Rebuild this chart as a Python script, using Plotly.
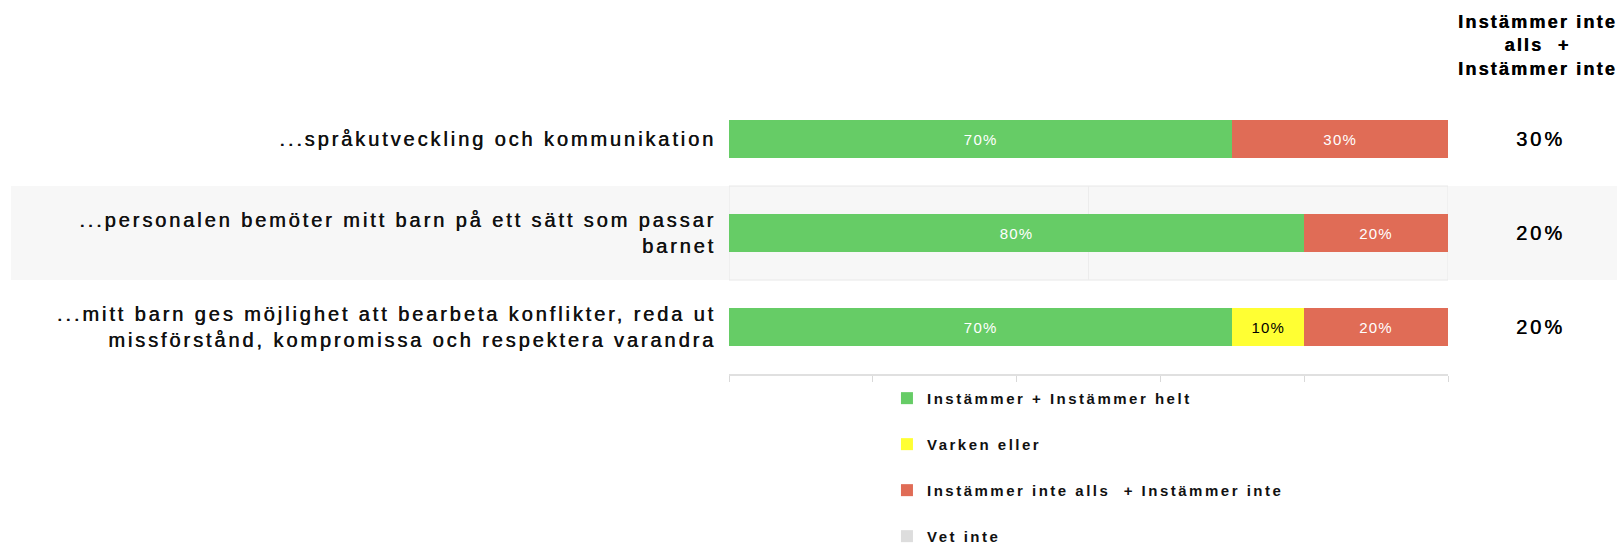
import plotly.graph_objects as go

categories = [
    "...språkutveckling och kommunikation",
    "...personalen bemöter mitt barn på ett sätt som passar<br>barnet",
    "...mitt barn ges möjlighet att bearbeta konflikter, reda ut<br>missförstånd, kompromissa och respektera varandra",
]
series_names = ["Instämmer + Instämmer helt", "Varken eller", "Instämmer inte alls  + Instämmer inte", "Vet inte"]
agree = [70, 80, 70]
neutral = [0, 0, 10]
disagree = [30, 20, 20]
dont_know = [0, 0, 0]
summary_header = "Instämmer inte<br>alls  +<br>Instämmer inte"
summary_values = ["30%", "20%", "20%"]

colors = ["#66cc66", "#ffff33", "#e06c56", "#dddddd"]
text_colors = ["white", "black", "white", "white"]
values = [agree, neutral, disagree, dont_know]


def spaced(txt, ls):
    return "<br>".join(f'<span style="letter-spacing:{ls}px">{part}</span>' for part in txt.split("<br>"))


FONT = "Liberation Sans, Arial, sans-serif"
THICK = "0.5px 0 0 #111"

fig = go.Figure()
for i, (name, vals) in enumerate(zip(series_names, values)):
    fig.add_trace(go.Bar(
        y=categories, x=vals, name=spaced(name, 2.5), orientation="h",
        marker=dict(color=colors[i], line=dict(width=0)),
        text=[spaced(f"{v}%", 1.2) if v > 0 else "" for v in vals],
        textposition="inside", insidetextanchor="middle", textangle=0,
        textfont=dict(color=text_colors[i], size=15, family=FONT),
        legendgroup=f"g{i}", width=0.4, hoverinfo="skip",
    ))

fig.add_shape(type="rect", xref="paper", yref="y", x0=-0.9986, x1=1.3, y0=0.5, y1=1.5,
              fillcolor="#f7f7f7", line=dict(width=0), layer="below")
fig.add_shape(type="rect", xref="x", yref="y", x0=0, x1=100, y0=0.5, y1=1.5,
              fillcolor="rgba(0,0,0,0)", line=dict(width=1, color="#e8e8e8"), layer="below")
fig.add_shape(type="line", xref="x", yref="y", x0=50, x1=50, y0=0.5, y1=1.5,
              line=dict(width=1, color="#ececec"), layer="below")

for c, v in zip(categories, summary_values):
    fig.add_annotation(x=1.129, xref="paper", xanchor="center", y=c, yref="y", text=spaced(v, 3),
                       showarrow=False, font=dict(size=20, color="black", family=FONT, shadow=THICK))

plot_top, plot_bottom = 92, 374.5
plot_h = plot_bottom - plot_top
fig.add_annotation(x=1.124, xref="paper", xanchor="center", y=1 + (plot_top - 45) / plot_h, yref="paper",
                   yanchor="middle", text=spaced(summary_header, 2.2), showarrow=False, align="center",
                   font=dict(size=18, color="black", family=FONT, weight="bold", shadow=THICK))

fig.update_layout(
    width=1617, height=547,
    barmode="stack",
    margin=dict(l=729, r=169, t=plot_top, b=547 - plot_bottom, autoexpand=False),
    paper_bgcolor="white", plot_bgcolor="rgba(0,0,0,0)",
    showlegend=True,
    legend=dict(x=0.2197, y=-0.028, xanchor="left", yanchor="top", orientation="v",
                traceorder="grouped", tracegroupgap=23.5,
                font=dict(size=15, color="#111", family=FONT, weight="bold"),
                bgcolor="rgba(0,0,0,0)"),
    xaxis=dict(range=[0, 100], tickvals=[0, 20, 40, 60, 80, 100], showticklabels=False, showgrid=False,
               zeroline=False, showline=True, linecolor="#e0e0e0", linewidth=2,
               ticks="outside", ticklen=6, tickcolor="#d9d9d9", fixedrange=True),
    yaxis=dict(categoryorder="array", categoryarray=categories, autorange="reversed",
               tickvals=categories, ticktext=[spaced(c, 2.9) for c in categories],
               showgrid=False, zeroline=False, ticks="", ticklabelstandoff=12,
               tickfont=dict(size=20, color="#111", family=FONT, shadow=THICK)),
)

fig.write_html("out.html", config={"displayModeBar": False},
               post_script="document.body.style.margin='0';document.body.style.overflow='hidden';")
